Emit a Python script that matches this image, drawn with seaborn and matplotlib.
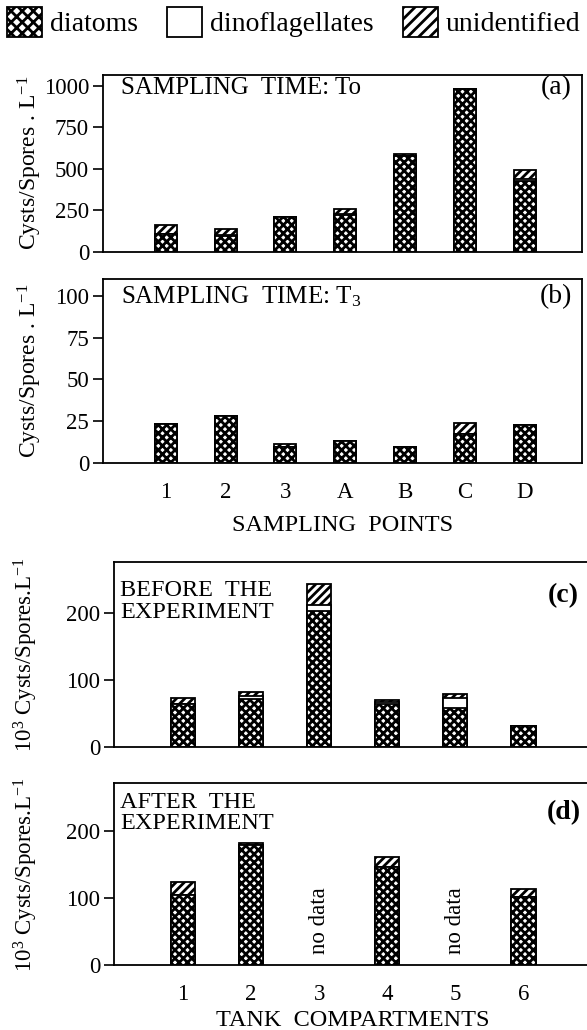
import numpy as np
import pandas as pd
import matplotlib
matplotlib.use("Agg")
import matplotlib.pyplot as plt
import seaborn as sns
from matplotlib.patches import Patch

# sampling points, times To and T3
points = ["1", "2", "3", "A", "B", "C", "D"]
t0_diatoms = [110, 94, 210, 220, 580, 984, 430]
t0_dino = [0, 6, 0, 6, 0, 0, 12]
t0_unid = [50, 38, 0, 32, 8, 0, 54]

t3_diatoms = [23.6, 28, 9.5, 13.3, 9.3, 17.3, 23]
t3_dino = [0, 0, 0, 0, 0, 0, 0]
t3_unid = [0, 0, 1.6, 0, 0, 6.7, 0]

# tank compartments, 10^3 cysts/spores per litre
tanks = ["1", "2", "3", "4", "5", "6"]
before_diatoms = [65, 72, 204, 64, 59, 31]
before_dino = [0, 5, 8.5, 3, 14, 0]
before_unid = [8, 6, 32, 3.6, 6, 0]

after_diatoms = [104, 180, np.nan, 146, np.nan, 102]
after_dino = [0, 0, np.nan, 0, np.nan, 0]
after_unid = [20, 3, np.nan, 15, np.nan, 12]

sns.set_theme(style="white")
plt.rcParams["font.family"] = ["Liberation Serif", "DejaVu Serif"]
plt.rcParams["mathtext.fontset"] = "custom"
plt.rcParams["mathtext.rm"] = "Liberation Serif"
plt.rcParams["hatch.linewidth"] = 2.0
plt.rcParams["hatch.color"] = "black"
for key in ["text.color", "axes.labelcolor", "xtick.color", "ytick.color"]:
    plt.rcParams[key] = "black"

CROSS = "xxxx"
DIAG = "////"

W, H = 587, 1030
fig = plt.figure(figsize=(W / 100, H / 100), dpi=100)


def px_axes(left, right, top, bottom):
    return fig.add_axes([left / W, 1 - bottom / H, (right - left) / W, (bottom - top) / H])


def stacked(ax, cats, diat, dino, unid, width):
    df = pd.DataFrame({"cat": cats, "diatoms": diat, "dino": dino, "unid": unid}).dropna()
    df["lower"] = df["diatoms"] + df["dino"]
    df["total"] = df["lower"] + df["unid"]
    kw = dict(data=df, x="cat", order=cats, ax=ax, width=width, color="white",
              edgecolor="black", linewidth=1.3, saturation=1, errorbar=None)
    sns.barplot(y="total", hatch=DIAG, **kw)
    sns.barplot(y="lower", **kw)
    sns.barplot(y="diatoms", hatch=CROSS, **kw)


def style(ax, yticks, ylim, xlim):
    ax.set_ylim(*ylim)
    ax.set_xlim(*xlim)
    ax.set_yticks(yticks)
    ax.set_xlabel("")
    ax.set_ylabel("")
    for s in ax.spines.values():
        s.set_color("black")
        s.set_linewidth(1.3)
    ax.tick_params(axis="y", direction="out", length=7, width=1.2, labelsize=16.5, pad=3, left=True)
    ax.tick_params(axis="x", length=0, labelsize=16.5, pad=14)


ax_a = px_axes(103, 582, 75, 252)
stacked(ax_a, points, t0_diatoms, t0_dino, t0_unid, 0.37)
style(ax_a, [0, 250, 500, 750, 1000], (0, 1066), (-1.05, 6.96))
ax_a.set_xticklabels([])
ax_a.text(0.037, 0.927, "SAMPLING  TIME: To", transform=ax_a.transAxes, fontsize=18, va="center")
ax_a.text(0.979, 0.927, "(a)", transform=ax_a.transAxes, fontsize=20, va="center", ha="right")

ax_b = px_axes(103, 582, 279, 463)
stacked(ax_b, points, t3_diatoms, t3_dino, t3_unid, 0.37)
style(ax_b, [0, 25, 50, 75, 100], (0, 110), (-1.05, 6.96))
ax_b.text(0.037, 0.902, r"SAMPLING  TIME: T$\mathregular{_3}$", transform=ax_b.transAxes, fontsize=18, va="center")
ax_b.text(0.979, 0.902, "(b)", transform=ax_b.transAxes, fontsize=20, va="center", ha="right")
ax_b.set_xlabel("SAMPLING  POINTS", fontsize=17.5, labelpad=8)

ax_c = px_axes(114, 592, 562, 747)
stacked(ax_c, tanks, before_diatoms, before_dino, before_unid, 0.36)
style(ax_c, [0, 100, 200], (0, 277), (-1.015, 6.01))
ax_c.set_xticklabels([])
ax_c.text(0.013, 0.9, "BEFORE  THE\nEXPERIMENT", transform=ax_c.transAxes, fontsize=17.5, va="top", linespacing=1.0)
ax_c.text(0.973, 0.816, "(c)", transform=ax_c.transAxes, fontsize=20, va="center", ha="right", fontweight="bold")

ax_d = px_axes(114, 592, 783, 965)
stacked(ax_d, tanks, after_diatoms, after_dino, after_unid, 0.36)
style(ax_d, [0, 100, 200], (0, 272), (-1.015, 6.01))
ax_d.text(0.013, 0.95, "AFTER  THE\nEXPERIMENT", transform=ax_d.transAxes, fontsize=17.5, va="top", linespacing=1.0)
ax_d.text(0.977, 0.835, "(d)", transform=ax_d.transAxes, fontsize=20, va="center", ha="right", fontweight="bold")
for i, v in enumerate(after_diatoms):
    if np.isnan(v):
        ax_d.text(i, 67, "no data", rotation=90, ha="center", va="center", fontsize=16.5)
ax_d.set_xlabel("TANK  COMPARTMENTS", fontsize=17.5, labelpad=3)

lab1 = r"Cysts/Spores . L$\mathregular{^{-1}}$"
lab2 = r"10$\mathregular{^3}$ Cysts/Spores.L$\mathregular{^{-1}}$"
fig.text(30 / W, 1 - 163 / H, lab1, rotation=90, ha="center", va="center", fontsize=17)
fig.text(30 / W, 1 - 371 / H, lab1, rotation=90, ha="center", va="center", fontsize=17)
fig.text(26 / W, 1 - 655 / H, lab2, rotation=90, ha="center", va="center", fontsize=16.5)
fig.text(26 / W, 1 - 875 / H, lab2, rotation=90, ha="center", va="center", fontsize=16.5)

handles = [Patch(facecolor="white", edgecolor="black", hatch="xxx", linewidth=1.3),
           Patch(facecolor="white", edgecolor="black", linewidth=1.3),
           Patch(facecolor="white", edgecolor="black", hatch="///", linewidth=1.3)]
fig.legend(handles, ["diatoms", "dinoflagellates", "unidentified"], loc="upper left",
           bbox_to_anchor=(0.0, 1.0), ncol=3, frameon=False, fontsize=20,
           handlelength=1.25, handleheight=1.3, handletextpad=0.3, columnspacing=1.05,
           borderaxespad=0.15, borderpad=0.1)

fig.savefig("out.png", dpi=100)
